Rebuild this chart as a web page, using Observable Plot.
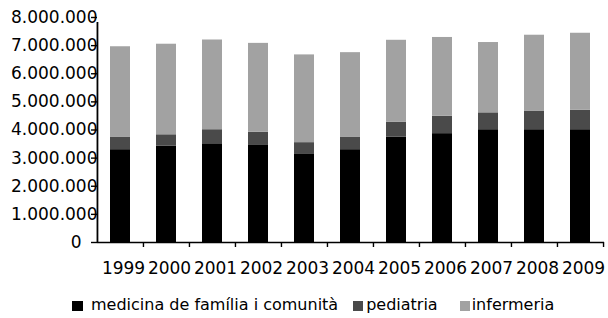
<!DOCTYPE html>
<html>
<head>
<meta charset="utf-8">
<script src="https://cdn.jsdelivr.net/npm/d3@7"></script>
<script src="https://cdn.jsdelivr.net/npm/@observablehq/plot@0.6"></script>
<style>
  html, body { margin: 0; padding: 0; background: #fff; }
  body { width: 608px; height: 318px; position: relative; overflow: hidden; font-family: "DejaVu Sans", sans-serif; }
  #legend { position: absolute; left: 72px; top: 295px; height: 20px; line-height: 20px; font-size: 16px; color: #000; display: flex; white-space: nowrap; }
  #legend .item { display: flex; align-items: center; }
  #legend .sw { width: 10px; height: 10px; display: inline-block; position: relative; top: 1px; }
  #legend .item:nth-child(1) .sw { width: 11px; margin-right: 8px; }
  #legend .item:nth-child(1) { margin-right: 15px; }
  #legend .item:nth-child(2) .sw { margin-right: 3px; }
  #legend .item:nth-child(2) { margin-right: 22px; }
  #legend .item:nth-child(3) .sw { margin-right: 2px; }
</style>
</head>
<body>
<div id="chart"></div>
<div id="legend"></div>
<script>
const years = ["1999","2000","2001","2002","2003","2004","2005","2006","2007","2008","2009"];
const seriesNames = ["medicina de família i comunità", "pediatria", "infermeria"];
const seriesColors = ["#000000", "#4a4a4a", "#a2a2a2"];
const medicina   = [3300000, 3430000, 3510000, 3450000, 3130000, 3300000, 3750000, 3870000, 4010000, 4010000, 4010000];
const pediatria  = [ 450000,  400000,  500000,  470000,  420000,  450000,  530000,  620000,  600000,  650000,  690000];
const infermeria = [3210000, 3220000, 3190000, 3160000, 3120000, 3000000, 2910000, 2800000, 2500000, 2710000, 2740000];
const yTicks = [0, 1000000, 2000000, 3000000, 4000000, 5000000, 6000000, 7000000, 8000000];

const values = [medicina, pediatria, infermeria];
const data = [];
seriesNames.forEach((s, si) => years.forEach((y, i) => data.push({year: y, series: s, value: values[si][i]})));

const fmt = d3.formatLocale({decimal: ",", thousands: ".", grouping: [3], currency: ["", ""]}).format(",");

const W = 608, H = 284, mL = 97, mR = 4, mT = 17, mB = 42;
const step = (W - mL - mR) / years.length;

const chart = Plot.plot({
  width: W, height: H,
  marginLeft: mL, marginRight: mR, marginTop: mT, marginBottom: mB,
  style: {fontFamily: "DejaVu Sans, sans-serif", fontSize: "17px", color: "#000", background: "#fff"},
  x: {domain: years, paddingInner: 0.555, paddingOuter: 0.2775, axis: null},
  y: {domain: [0, 8000000], axis: null},
  color: {domain: seriesNames, range: seriesColors},
  marks: [
    Plot.barY(data, {x: "year", y: "value", fill: "series", order: seriesNames}),
    Plot.ruleY([0], {stroke: "#000", strokeWidth: 1.7}),
    Plot.ruleX([years[0]], {x: d => d, dx: -step / 2, y1: 0, y2: 8000000, insetBottom: -5, stroke: "#000", strokeWidth: 1.8}),
    Plot.ruleX(years.slice(1), {x: d => d, dx: -step / 2, y1: 0, y2: 0, insetBottom: -5, stroke: "#000", strokeWidth: 1.4}),
    Plot.ruleX([years[years.length - 1]], {x: d => d, dx: step / 2, y1: 0, y2: 0, insetBottom: -5, stroke: "#000", strokeWidth: 1.4}),
    Plot.axisY({ticks: yTicks.filter(d => d > 0), label: null, tickSize: 6, tickPadding: -6, tickFormat: fmt, stroke: "#000", strokeWidth: 1.4, fill: "#000", fontSize: 17, letterSpacing: "0.6px"}),
    Plot.axisY({ticks: [0], label: null, tickSize: 6, tickPadding: 10, tickFormat: fmt, stroke: "#000", strokeWidth: 1.4, fill: "#000", fontSize: 17}),
    Plot.axisX({ticks: years, label: null, tickSize: 0, tickPadding: 19, dx: 3, fill: "#000", fontSize: 17})
  ]
});
document.getElementById("chart").appendChild(chart);

const legend = document.getElementById("legend");
seriesNames.forEach((s, i) => {
  const item = document.createElement("span");
  item.className = "item";
  const sw = document.createElement("span");
  sw.className = "sw";
  sw.style.background = seriesColors[i];
  const t = document.createElement("span");
  t.textContent = s;
  item.appendChild(sw);
  item.appendChild(t);
  legend.appendChild(item);
});
</script>
</body>
</html>
